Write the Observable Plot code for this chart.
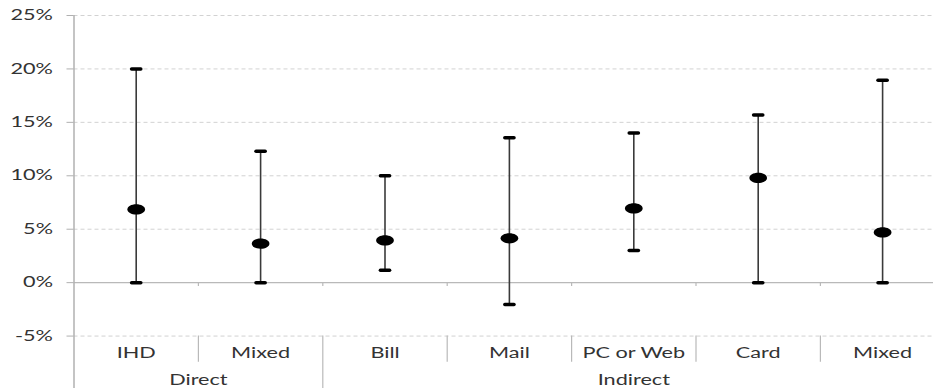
<!DOCTYPE html>
<html>
<head>
<meta charset="utf-8">
<script src="https://cdn.jsdelivr.net/npm/d3@7"></script>
<script src="https://cdn.jsdelivr.net/npm/@observablehq/plot@0.6"></script>
<style>
  html, body { margin: 0; padding: 0; background: #fff; overflow: hidden; }
  #chart svg { display: block; }
</style>
</head>
<body>
<div id="chart"></div>
<script>
// ---- data ----
const categories = ["IHD", "Mixed", "Bill", "Mail", "PC or Web", "Card", "Mixed"];
const groupOf    = ["Direct", "Direct", "Indirect", "Indirect", "Indirect", "Indirect", "Indirect"];
const estimate   = [6.85, 3.65, 3.95, 4.15, 6.95, 9.8, 4.7];
const low        = [0, 0, 1.15, -2.05, 3.0, 0, 0];
const high       = [20, 12.3, 10, 13.55, 14.0, 15.7, 18.95];
const yTicks     = [-5, 0, 5, 10, 15, 20, 25];
const groupNames = ["Direct", "Indirect"];

// ---- derived tables ----
const rows = categories.map((c, i) => ({i, pos: i + 0.5, c, est: estimate[i], lo: low[i], hi: high[i]}));
const caps = rows.flatMap(r => [{pos: r.pos, v: r.lo}, {pos: r.pos, v: r.hi}]);
const groups = groupNames.map(g => {
  const idx = groupOf.map((d, i) => d === g ? i : -1).filter(i => i >= 0);
  const start = d3.min(idx), end = d3.max(idx) + 1;
  return {g, start, end, mid: (start + end) / 2};
});
const boundaries = d3.range(1, categories.length);
const groupBounds = groups.slice(1).map(g => g.start);
const catBounds = boundaries.filter(b => !groupBounds.includes(b));

// ellipse symbol (the reference is horizontally stretched)
const ellipse = {
  draw(ctx, size) {
    const r = Math.sqrt(size / Math.PI);
    const rx = r * 1.3, ry = r * 0.75, k = 0.5523;
    ctx.moveTo(rx, 0);
    ctx.bezierCurveTo(rx, ry * k, rx * k, ry, 0, ry);
    ctx.bezierCurveTo(-rx * k, ry, -rx, ry * k, -rx, 0);
    ctx.bezierCurveTo(-rx, -ry * k, -rx * k, -ry, 0, -ry);
    ctx.bezierCurveTo(rx * k, -ry, rx, -ry * k, rx, 0);
    ctx.closePath();
  }
};

const FS = 14.5;
const plot = Plot.plot({
  width: 933,
  height: 388,
  marginLeft: 73.5,
  marginTop: 15,
  marginBottom: 0,
  marginRight: 0,
  style: {fontFamily: "Lato, 'Open Sans', sans-serif", fontSize: FS + "px", background: "#fff", overflow: "hidden"},
  x: {domain: [0, categories.length], range: [73.5, 944.3], axis: null},
  y: {domain: [-10, 25], range: [389, 15], axis: null},
  marks: [
    // dashed gridlines
    Plot.ruleY(yTicks.filter(t => t !== 0), {x1: 0, x2: categories.length, stroke: "#d2d2d2", strokeDasharray: "4,3", strokeWidth: 1}),
    // zero baseline with small ticks at category boundaries
    Plot.ruleY([0], {x1: 0, x2: categories.length, stroke: "#b9b9b9", strokeWidth: 1.3}),
    Plot.ruleX(boundaries, {y1: 0, y2: -0.35, stroke: "#b9b9b9", strokeWidth: 1.2}),
    // category separators below the plot
    Plot.ruleX(catBounds, {y1: -5, y2: -7.45, stroke: "#b9b9b9", strokeWidth: 1.2}),
    Plot.ruleX(groupBounds, {y1: -5, y2: -10, stroke: "#b9b9b9", strokeWidth: 1.2}),
    // vertical axis line
    Plot.ruleX([0], {y1: -10, y2: 25, stroke: "#b0b0b0", strokeWidth: 1.5}),
    Plot.axisY(yTicks, {tickSize: 7, tickPadding: 14, tickFormat: d => d + "%", stroke: "#b0b0b0", fill: "#333", fontSize: FS}),
    // error bars
    Plot.link(rows, {x1: "pos", x2: "pos", y1: "lo", y2: "hi", stroke: "#3a3a3a", strokeWidth: 1.6}),
    Plot.link(caps, {x1: d => d.pos - 0.037, x2: d => d.pos + 0.037, y1: "v", y2: "v", stroke: "#000", strokeWidth: 3.5, strokeLinecap: "round"}),
    Plot.dot(rows, {x: "pos", y: "est", r: 6.8, fill: "#000", stroke: null, symbol: ellipse}),
    // category and group labels
    Plot.text(rows, {x: "pos", y: -6.65, text: "c", fill: "#333", fontSize: FS}),
    Plot.text(groups, {x: "mid", y: -9.15, text: "g", fill: "#333", fontSize: FS})
  ]
});
document.getElementById("chart").appendChild(plot);

// stretch text horizontally like the reference
const texts = Array.from(plot.querySelectorAll("text"));
const leaves = texts.flatMap(t => {
  const ts = t.querySelectorAll("tspan");
  return ts.length ? Array.from(ts) : [t];
});
const ref = leaves.find(t => t.textContent === "Mixed");
const k = ref ? 59 / ref.getComputedTextLength() : 1.5;
for (const t of leaves) {
  const len = t.getComputedTextLength();
  if (len > 0) {
    t.setAttribute("textLength", (len * k).toFixed(1));
    t.setAttribute("lengthAdjust", "spacingAndGlyphs");
  }
}
</script>
</body>
</html>
